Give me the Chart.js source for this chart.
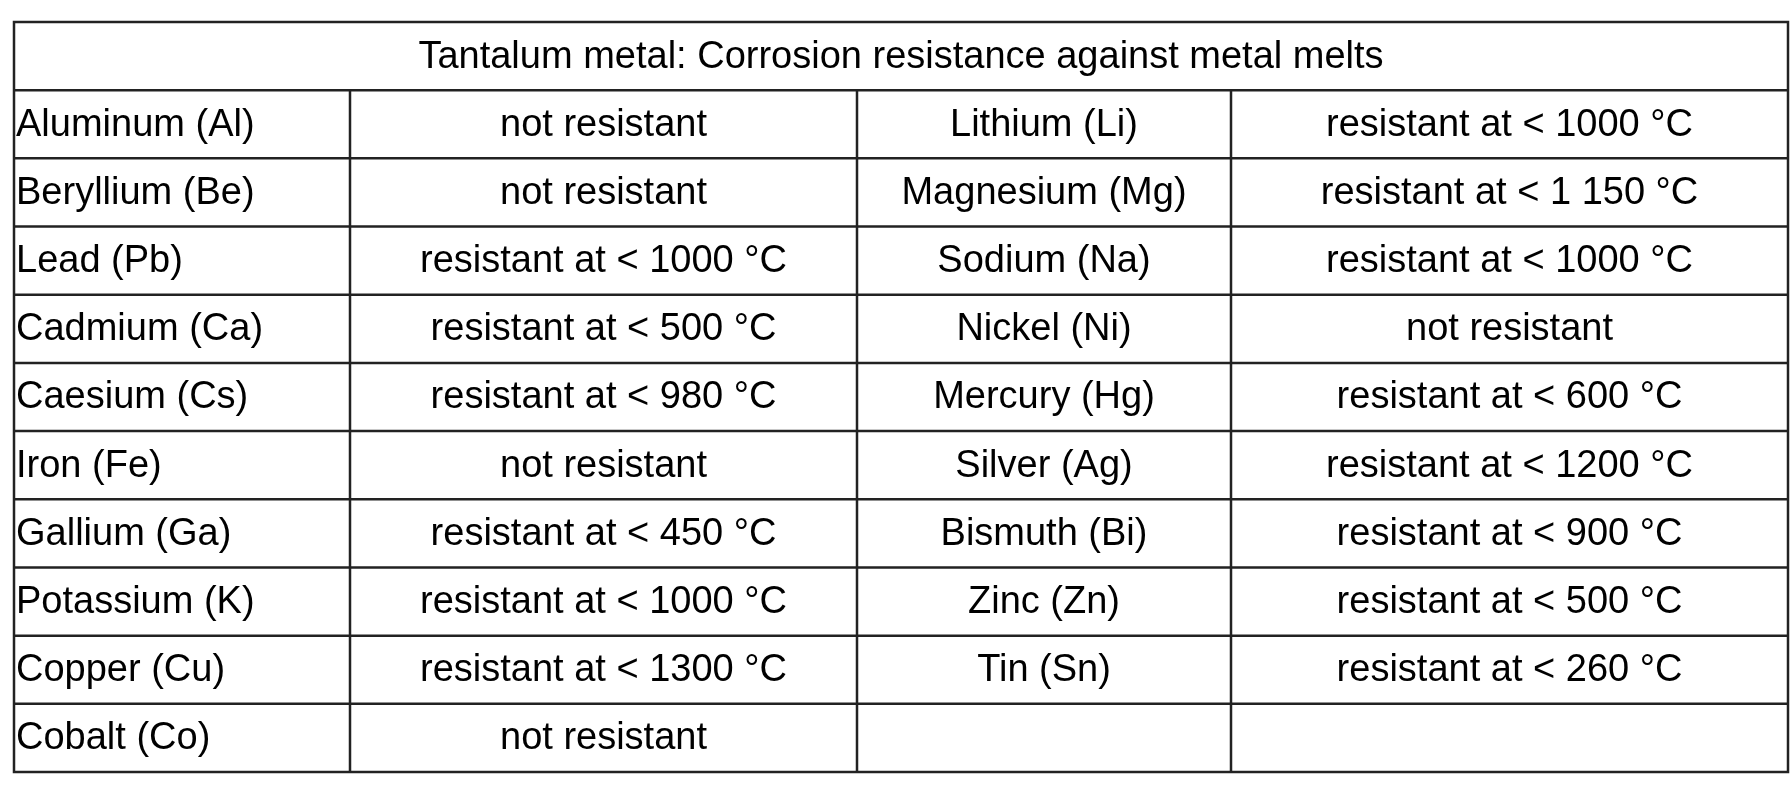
<!DOCTYPE html>
<html><head><meta charset="utf-8">
<script src="https://cdn.jsdelivr.net/npm/chart.js@4"></script>
<style>html,body{margin:0;padding:0;background:#fff}#wrap{width:1791px;height:792px}</style>
</head><body><div id="wrap"><canvas id="c" width="1791" height="792"></canvas></div>
<script>
const title = "Tantalum metal: Corrosion resistance against metal melts";
const leftMetals = ["Aluminum (Al)","Beryllium (Be)","Lead (Pb)","Cadmium (Ca)","Caesium (Cs)","Iron (Fe)","Gallium (Ga)","Potassium (K)","Copper (Cu)","Cobalt (Co)"];
const leftResistance = ["not resistant","not resistant","resistant at < 1000 °C","resistant at < 500 °C","resistant at < 980 °C","not resistant","resistant at < 450 °C","resistant at < 1000 °C","resistant at < 1300 °C","not resistant"];
const rightMetals = ["Lithium (Li)","Magnesium (Mg)","Sodium (Na)","Nickel (Ni)","Mercury (Hg)","Silver (Ag)","Bismuth (Bi)","Zinc (Zn)","Tin (Sn)",""];
const rightResistance = ["resistant at < 1000 °C","resistant at < 1 150 °C","resistant at < 1000 °C","not resistant","resistant at < 600 °C","resistant at < 1200 °C","resistant at < 900 °C","resistant at < 500 °C","resistant at < 260 °C",""];

const tablePlugin = {
  id: 'table',
  afterDraw(chart) {
    const ctx = chart.ctx;
    const L = 14, R = 1788, T = 22, B = 772;
    const colX = [L, 350, 857, 1231, R];
    const nRows = leftMetals.length + 1;
    const rh = (B - T) / nRows;
    ctx.save();
    ctx.fillStyle = '#fff'; ctx.fillRect(0,0,1791,792);
    ctx.strokeStyle = '#222'; ctx.lineWidth = 2.5;
    ctx.strokeRect(L, T, R - L, B - T);
    for (let i = 1; i < nRows; i++) {
      ctx.beginPath(); ctx.moveTo(L, T + i*rh); ctx.lineTo(R, T + i*rh); ctx.stroke();
    }
    for (let j = 1; j < 4; j++) {
      ctx.beginPath(); ctx.moveTo(colX[j], T + rh); ctx.lineTo(colX[j], B); ctx.stroke();
    }
    ctx.fillStyle = '#000';
    ctx.font = '38px "Liberation Sans", Arial, sans-serif';
    ctx.textBaseline = 'middle';
    ctx.textAlign = 'center';
    ctx.fillText(title, (L + R) / 2, T + rh/2 + 1);
    const cols = [leftMetals, leftResistance, rightMetals, rightResistance];
    for (let i = 0; i < leftMetals.length; i++) {
      const y = T + (i+1)*rh + rh/2 + 1;
      cols.forEach((arr, j) => {
        if (j === 0) { ctx.textAlign = 'left'; ctx.fillText(arr[i], L + 2, y); }
        else { ctx.textAlign = 'center'; ctx.fillText(arr[i], (colX[j] + colX[j+1]) / 2, y); }
      });
    }
    ctx.restore();
  }
};

new Chart(document.getElementById('c'), {
  type: 'bar',
  data: { labels: leftMetals, datasets: [{ data: leftMetals.map(() => 0) }] },
  options: {
    responsive: false, animation: false, devicePixelRatio: 1,
    layout: { padding: 0 },
    plugins: { legend: { display: false }, tooltip: { enabled: false } },
    scales: { x: { display: false }, y: { display: false } }
  },
  plugins: [tablePlugin]
});
</script></body></html>
